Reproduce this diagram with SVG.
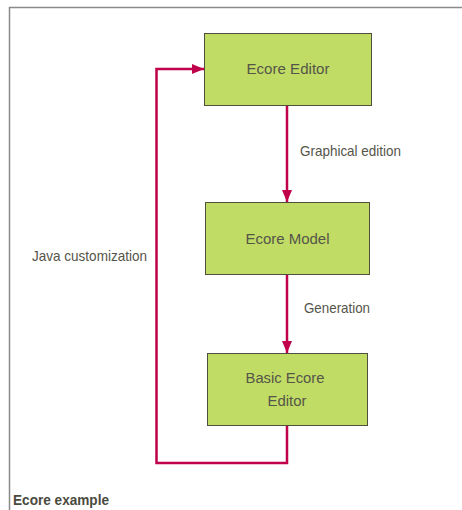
<svg xmlns="http://www.w3.org/2000/svg" width="462" height="510" viewBox="0 0 462 510">
<defs>
<style>
.node{fill:#c0dc64;stroke:#4f4f40;stroke-width:1}
.lbl{font-family:"Liberation Sans",Arial,sans-serif;font-size:15.5px;fill:#55554a;text-anchor:middle}
.elbl{font-family:"Liberation Sans",Arial,sans-serif;font-size:14.5px;fill:#55554a}
.conn{fill:none;stroke:#c0004a;stroke-width:2.5}
</style>
<marker id="ah" markerWidth="12" markerHeight="10" refX="12" refY="5" orient="auto" markerUnits="userSpaceOnUse">
<path d="M0,0 L12,5 L0,10 Z" fill="#c0004a"/>
</marker>
</defs>
<rect width="462" height="510" fill="#fff"/>
<path d="M9.5,510 V7.5 H462" fill="none" stroke="#8a8a8a" stroke-width="1.5"/>
<g id="connectors">
<path class="conn" d="M287,105 V202" marker-end="url(#ah)"/>
<path class="conn" d="M287,274 V353" marker-end="url(#ah)"/>
<path class="conn" d="M287,425 V463 H156.5 V69 H204" marker-end="url(#ah)"/>
<text class="elbl" x="300" y="156" textLength="101" lengthAdjust="spacingAndGlyphs">Graphical edition</text>
<text class="elbl" x="304" y="313" textLength="66" lengthAdjust="spacingAndGlyphs">Generation</text>
<text class="elbl" x="32" y="261" textLength="115" lengthAdjust="spacingAndGlyphs">Java customization</text>
</g>
<g id="ecore-editor">
<rect class="node" x="204.5" y="33.5" width="167" height="72"/>
<text class="lbl" x="288" y="74" textLength="83" lengthAdjust="spacingAndGlyphs">Ecore Editor</text>
</g>
<g id="ecore-model">
<rect class="node" x="205.5" y="202.5" width="164" height="72"/>
<text class="lbl" x="287.5" y="244" textLength="84" lengthAdjust="spacingAndGlyphs">Ecore Model</text>
</g>
<g id="basic-ecore-editor">
<rect class="node" x="207.5" y="353.5" width="160" height="72"/>
<text class="lbl" x="285" y="383" textLength="79" lengthAdjust="spacingAndGlyphs">Basic Ecore</text>
<text class="lbl" x="287" y="406" textLength="39" lengthAdjust="spacingAndGlyphs">Editor</text>
</g>
<text x="13" y="505" font-family="'Liberation Sans',Arial,sans-serif" font-size="14.5" font-weight="bold" fill="#4a4a40" textLength="96" lengthAdjust="spacingAndGlyphs">Ecore example</text>
</svg>
